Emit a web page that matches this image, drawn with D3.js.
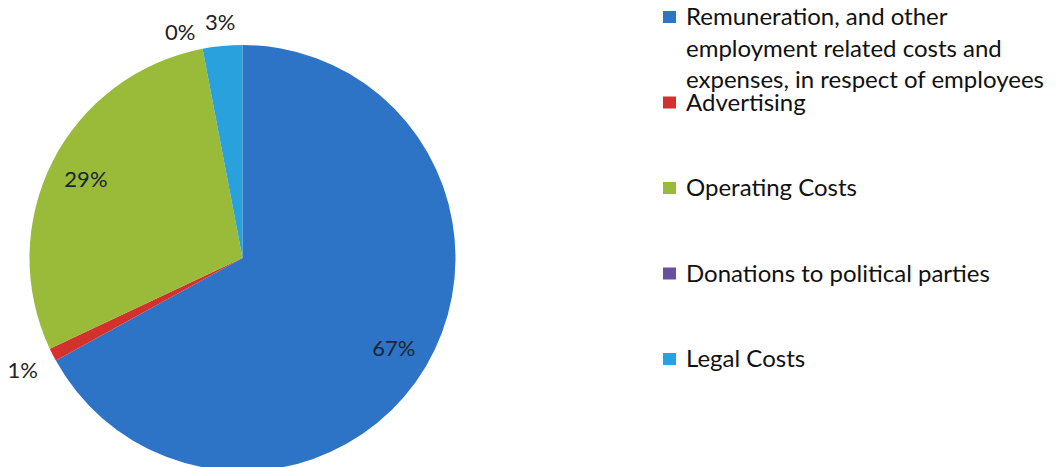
<!DOCTYPE html>
<html>
<head>
<meta charset="utf-8">
<script src="https://cdn.jsdelivr.net/npm/d3@7"></script>
<style>
  html, body { margin: 0; padding: 0; background: #fff; }
  svg { display: block; }
</style>
</head>
<body>
<script>
// chart data
var categories = [
  ["Remuneration, and other", "employment related costs and", "expenses, in respect of employees"],
  ["Advertising"],
  ["Operating Costs"],
  ["Donations to political parties"],
  ["Legal Costs"]
];
var values = [67, 1, 29, 0, 3];
var colors = ["#2e74c6", "#d2312d", "#9aba3a", "#6a4f9e", "#29a1dc"];

var width = 1064, height = 467;
var cx = 242.5, cy = 258, radius = 213;
var font = "Lato, 'Open Sans', sans-serif";

var svg = d3.select(document.body).append("svg")
  .attr("width", width)
  .attr("height", height);

var pie = d3.pie().sort(null).value(function(d){ return d; });
var arcs = pie(values);
var arc = d3.arc().innerRadius(0).outerRadius(radius);

var g = svg.append("g").attr("transform", "translate(" + cx + "," + cy + ")");

g.selectAll("path").data(arcs).enter()
  .append("path")
  .attr("d", arc)
  .attr("fill", function(d, i){ return colors[i]; });

// labels: big slices inside, small ones outside
var total = d3.sum(values);
var labels = arcs.map(function(d){
  var mid = (d.startAngle + d.endAngle) / 2;
  var pct = d.data / total;
  var r = pct >= 0.05 ? radius * 0.825 : radius + 23 + 12 * Math.abs(Math.sin(mid));
  return { text: Math.round(pct * 100) + "%", x: r * Math.sin(mid), y: -r * Math.cos(mid), inside: pct >= 0.05 };
});
// push apart outside labels that collide near the top
for (var i = labels.length - 2; i >= 0; i--) {
  var a = labels[i], b = labels[i + 1];
  if (!a.inside && !b.inside && Math.abs(a.y - b.y) < 20 && b.x - a.x < 40) {
    a.x = b.x - 40;
    a.y = b.y + 10;
  }
}

g.selectAll("text.lbl").data(labels).enter()
  .append("text")
  .attr("class", "lbl")
  .attr("x", function(d){ return d.x; })
  .attr("y", function(d){ return d.y; })
  .attr("text-anchor", "middle")
  .attr("dominant-baseline", "central")
  .style("font-family", font)
  .style("font-size", "22px")
  .style("fill", function(d){ return d.inside ? "#1b2433" : "#222"; })
  .text(function(d){ return d.text; });

// legend
var legendY = d3.scalePoint().domain(d3.range(categories.length)).range([17, 359]);
var lineH = 31.5;

var leg = svg.append("g").selectAll("g").data(categories).enter()
  .append("g")
  .attr("transform", function(d, i){ return "translate(663," + legendY(i) + ")"; });

leg.append("rect")
  .attr("x", 0).attr("y", -6)
  .attr("width", 13).attr("height", 12)
  .attr("fill", function(d, i){ return colors[i]; });

leg.append("text")
  .style("font-family", font)
  .style("font-size", "24px")
  .style("fill", "#111")
  .selectAll("tspan").data(function(d){ return d; }).enter()
  .append("tspan")
  .attr("x", 23)
  .attr("y", function(d, j){ return j * lineH; })
  .attr("dy", "0.35em")
  .text(function(d){ return d; });
</script>
</body>
</html>
